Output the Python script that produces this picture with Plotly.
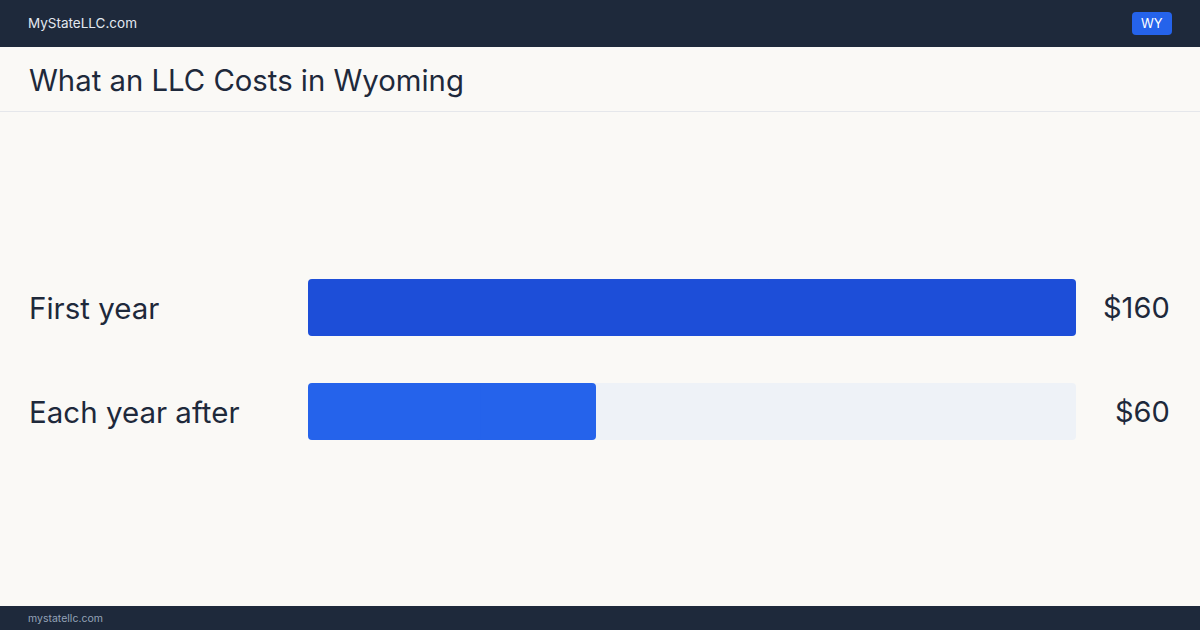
import plotly.graph_objects as go

W, H = 1200, 630

# dados
categorias = ["First year", "Each year after"]
valores = [160, 60]
rotulos_valor = ["$160", "$60"]
maximo = 160
estado = "WY"
titulo = "What an LLC Costs in Wyoming"

cores_barras = ["#1d4ed8", "#2563eb"]
cor_trilho = "#eef2f7"
cor_texto = "#1e293b"
cor_fundo = "#faf9f6"
cor_topo = "#1e293b"


def px_x(v):
    return v / W


def px_y(v):
    return 1 - v / H


def barra_arredondada(fig, totais, cores):
    # o plotly so arredonda a ponta da barra: duas barras sobrepostas,
    # uma crescendo para a direita e outra para a esquerda
    for ini, comp in ((0.4, 0.6), (0.6, -0.6)):
        fig.add_trace(go.Bar(
            y=categorias,
            x=[t * comp for t in totais],
            base=[t * ini for t in totais],
            orientation="h",
            marker=dict(color=cores, line=dict(width=0)),
            width=0.548,
            showlegend=False,
            hoverinfo="skip",
        ))


fig = go.Figure()

# trilho de fundo
barra_arredondada(fig, [maximo] * len(categorias), cor_trilho)
# barras
barra_arredondada(fig, valores, cores_barras)

# faixas do topo / rodape
shapes = [
    dict(type="rect", xref="paper", yref="paper", x0=0, x1=1,
         y0=px_y(47), y1=1, fillcolor=cor_topo, line=dict(width=0), layer="below"),
    dict(type="rect", xref="paper", yref="paper", x0=0, x1=1,
         y0=0, y1=px_y(606), fillcolor=cor_topo, line=dict(width=0), layer="below"),
    dict(type="line", xref="paper", yref="paper", x0=0, x1=1,
         y0=px_y(111.5), y1=px_y(111.5), line=dict(color="#e5e7eb", width=1)),
    dict(type="path", xref="paper", yref="paper",
         path=("M {a},{t} L {b},{t} Q {c},{t} {c},{u} L {c},{v} Q {c},{w} {b},{w} "
               "L {a},{w} Q {d},{w} {d},{v} L {d},{u} Q {d},{t} {a},{t} Z").format(
             a=px_x(1136), b=px_x(1168), c=px_x(1172), d=px_x(1132),
             t=px_y(12), u=px_y(16), v=px_y(31), w=px_y(35)),
         fillcolor="#2563eb", line=dict(width=0)),
]

annotations = [
    dict(text="MyStateLLC.com", x=px_x(26), y=px_y(23.5), xref="paper", yref="paper",
         xanchor="left", yanchor="middle", showarrow=False,
         font=dict(size=13.5, color="#e2e8f0")),
    dict(text=estado, x=px_x(1152), y=px_y(23.5), xref="paper", yref="paper",
         xanchor="center", yanchor="middle", showarrow=False,
         font=dict(size=13, color="#ffffff")),
    dict(text=titulo, x=px_x(27), y=px_y(81), xref="paper", yref="paper",
         xanchor="left", yanchor="middle", showarrow=False,
         font=dict(size=29.3, color=cor_texto)),
    dict(text="mystatellc.com", x=px_x(26), y=px_y(618.5), xref="paper", yref="paper",
         xanchor="left", yanchor="middle", showarrow=False,
         font=dict(size=10.5, color="#94a3b8")),
]

for cat, rot in zip(categorias, rotulos_valor):
    annotations.append(dict(text=cat, x=px_x(26.5), y=cat, xref="paper", yref="y",
                            xanchor="left", yanchor="middle", showarrow=False,
                            font=dict(size=29.5, color=cor_texto)))
    annotations.append(dict(text=rot, x=px_x(1172), y=cat, xref="paper", yref="y",
                            xanchor="right", yanchor="middle", showarrow=False,
                            font=dict(size=29, color=cor_texto)))

fig.update_layout(
    width=W, height=H,
    margin=dict(l=0, r=0, t=0, b=0),
    paper_bgcolor=cor_fundo,
    plot_bgcolor=cor_fundo,
    font=dict(family="Inter, Roboto, sans-serif", color=cor_texto),
    barmode="overlay",
    barcornerradius=4,
    xaxis=dict(domain=[px_x(308), px_x(1076)], range=[0, maximo],
               visible=False, fixedrange=True),
    yaxis=dict(domain=[px_y(463.5), px_y(255.5)], range=[1.5, -0.5],
               visible=False, fixedrange=True),
    shapes=shapes,
    annotations=annotations,
    hovermode=False,
)

fig.write_html("out.html", config={"displayModeBar": False},
               post_script="document.body.style.margin='0';")
